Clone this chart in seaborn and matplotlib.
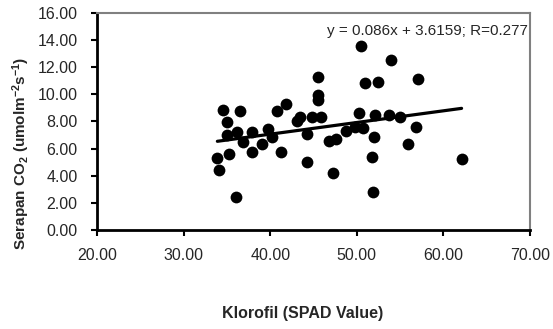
import matplotlib
matplotlib.use("Agg")
import matplotlib.pyplot as plt
import seaborn as sns
import numpy as np
import pandas as pd

# Data
klorofil = [33.9, 34.1, 34.6, 35.0, 35.0, 35.2, 36.1, 36.2, 36.5, 36.9, 37.9, 37.9,
            39.1, 39.8, 40.2, 40.8, 41.3, 41.8, 43.1, 43.4, 44.2, 44.3, 44.8, 45.5,
            45.5, 45.5, 45.9, 46.8, 47.3, 47.6, 48.8, 49.8, 50.2, 50.5, 50.75, 51.0,
            51.8, 51.9, 52.0, 52.1, 52.4, 53.75, 54.0, 55.0, 55.9, 56.8, 57.1, 62.1]
serapan = [5.27, 4.41, 8.83, 7.97, 6.99, 5.57, 2.45, 7.19, 8.76, 6.5, 7.23, 5.76,
           6.3, 7.41, 6.87, 8.78, 5.76, 9.27, 8.0, 8.29, 7.06, 5.03, 8.34, 11.3,
           9.95, 9.6, 8.34, 6.55, 4.22, 6.67, 7.32, 7.58, 8.59, 13.54, 7.48, 10.84,
           5.39, 2.78, 6.85, 8.5, 10.9, 8.44, 12.5, 8.29, 6.33, 7.58, 11.1, 5.2]
slope = 0.086
intercept = 3.6159
r_value = 0.277
x_ticks = [20, 30, 40, 50, 60, 70]
y_ticks = [0, 2, 4, 6, 8, 10, 12, 14, 16]

sns.set_style("white")
plt.rcParams['font.family'] = ['Liberation Sans', 'DejaVu Sans']
plt.rcParams['mathtext.default'] = 'regular'

df = pd.DataFrame({"x": klorofil, "y": serapan})
xmin, xmax = min(klorofil), max(klorofil)
fit = pd.DataFrame({"x": [xmin, xmax],
                    "y": [slope * xmin + intercept, slope * xmax + intercept]})

fig = plt.figure(figsize=(5.53, 3.29), dpi=100)
ax = fig.add_axes([0.1754, 0.3009, 0.9584 - 0.1754, 0.9614 - 0.3009])

sns.scatterplot(data=df, x="x", y="y", ax=ax, color="black", s=72,
                edgecolor="black", linewidth=0, zorder=3)
sns.lineplot(data=fit, x="x", y="y", ax=ax, color="black", linewidth=2.3, zorder=4)

ax.set_xlim(20, 70)
ax.set_ylim(0, 16)
ax.set_xticks(x_ticks)
ax.set_yticks(y_ticks)
ax.set_xticklabels([f"{v:.2f}" for v in x_ticks], fontsize=11.5)
ax.set_yticklabels([f"{v:.2f}" for v in y_ticks], fontsize=11.5)
ax.tick_params(axis='both', direction='out', length=4, width=1.5, color='black',
               bottom=True, left=True)
ax.tick_params(axis='x', pad=9)
ax.tick_params(axis='y', pad=10)

for side in ['left', 'bottom']:
    ax.spines[side].set_color('black')
    ax.spines[side].set_linewidth(2)
for side in ['top', 'right']:
    ax.spines[side].set_color('#808080')
    ax.spines[side].set_linewidth(1.5)

ax.set_xlabel("Klorofil (SPAD Value)", fontsize=11.5, fontweight='bold', va='center')
ax.set_ylabel("Serapan CO$_2$ (umolm$^{-2}$s$^{-1}$)", fontsize=11, fontweight='bold',
              va='center')
ax.xaxis.set_label_coords(0.476, -0.382)
ax.yaxis.set_label_coords(-0.175, 0.354)

ax.text(0.995, 0.916, f"y = {slope}x + {intercept}; R={r_value}", transform=ax.transAxes,
        ha='right', va='center', fontsize=11)

fig.savefig("out.png", dpi=100)
